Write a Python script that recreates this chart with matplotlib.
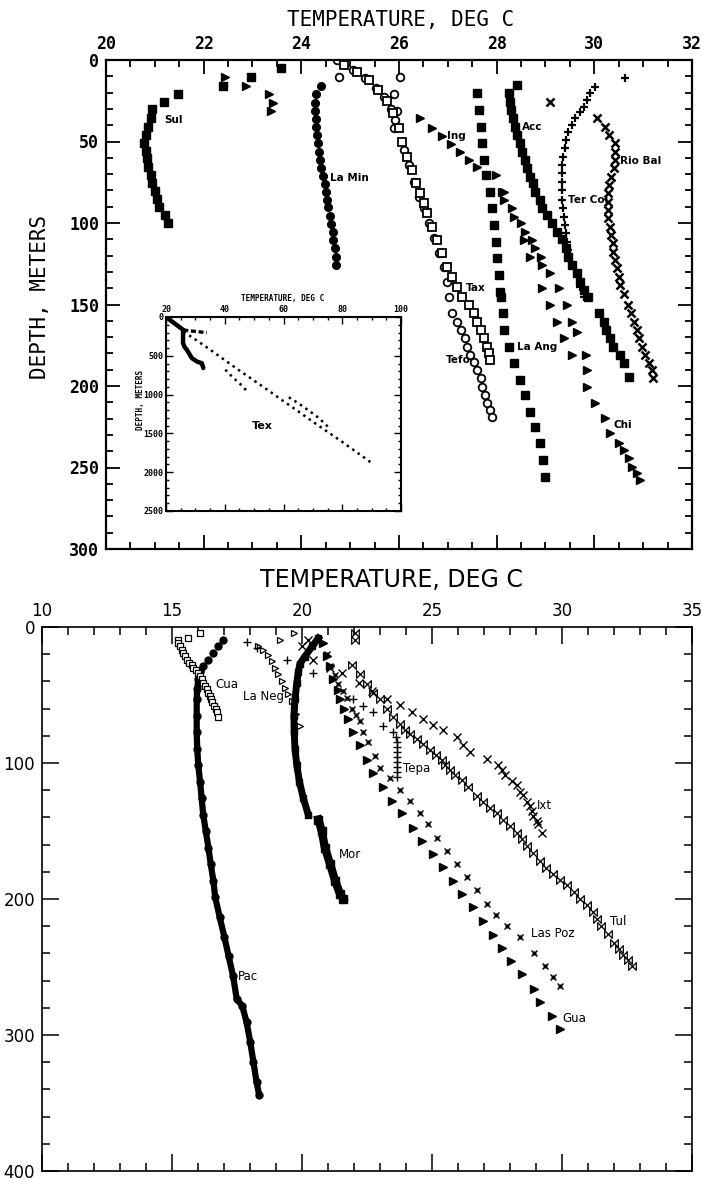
import matplotlib
matplotlib.use("Agg")
from matplotlib import pyplot as plt
from matplotlib.path import Path
from matplotlib.ticker import MultipleLocator

W, H = 702, 1180

# ---------------- upper chart: temperature (deg C) vs depth (m) ----------------
sul_t = [21.48, 21.18, 20.95, 20.92, 20.85, 20.82, 20.78, 20.82, 20.84, 20.87, 20.92,
         20.95, 21.00, 21.04, 21.09, 21.21, 21.26]
sul_d = [20.9, 25.6, 30.3, 35.8, 40.9, 46.0, 50.7, 55.6, 60.3, 65.4, 70.6,
         75.3, 80.2, 85.3, 90.4, 95.1, 100.2]

top_sq_t = [22.39, 22.97, 23.58]
top_sq_d = [16.0, 10.6, 5.1]
top_tri_t = [22.44, 22.86, 23.34, 23.43, 23.37]
top_tri_d = [10.6, 16.0, 20.9, 26.2, 31.1]

lamin_t = [24.40, 24.31, 24.29, 24.29, 24.31, 24.31, 24.33, 24.35, 24.36, 24.38, 24.41, 24.45,
           24.48, 24.50, 24.52, 24.55, 24.58, 24.60, 24.64, 24.65, 24.68, 24.70, 24.72]
lamin_d = [16.0, 20.9, 26.2, 31.1, 36.2, 41.3, 46.0, 51.1, 56.3, 61.3, 66.4, 71.2,
           76.1, 80.8, 85.9, 90.4, 95.7, 100.6, 105.7, 110.4, 115.5, 120.7, 125.8]

tefo_t = [24.74, 24.77, 26.03, 25.90, 25.96, 25.05, 25.30, 25.52, 25.70, 25.84, 25.92,
          25.90, 26.10, 26.20, 26.30, 26.41, 26.51, 26.61, 26.71, 26.82, 26.92, 26.99,
          27.02, 27.09, 27.19, 27.26, 27.36, 27.40, 27.46, 27.53, 27.60, 27.67, 27.70,
          27.77, 27.80, 27.87, 27.91]
tefo_d = [0.0, 10.6, 10.6, 21.0, 31.0, 6.0, 11.0, 17.0, 23.0, 30.0, 37.0,
          41.9, 55.2, 64.4, 74.7, 83.9, 91.0, 100.2, 109.4, 118.6, 126.8, 136.0,
          145.2, 155.4, 160.5, 165.6, 170.7, 175.9, 181.0, 185.1, 190.2, 195.3, 200.4,
          205.5, 210.6, 214.7, 218.8]

tax_t = [24.87, 25.13, 25.38, 25.58, 25.75, 25.87, 26.00, 26.07, 26.17, 26.27, 26.34,
         26.44, 26.51, 26.58, 26.68, 26.78, 26.88, 26.99, 27.09, 27.19, 27.29, 27.43,
         27.53, 27.60, 27.67, 27.74, 27.80, 27.84, 27.87]
tax_d = [3.1, 7.4, 12.3, 18.4, 25.2, 32.5, 41.9, 50.1, 59.3, 67.5, 75.6,
         81.8, 87.9, 94.0, 102.3, 110.4, 118.6, 126.8, 133.0, 139.1, 145.2, 150.3,
         155.4, 160.5, 165.6, 170.7, 175.9, 179.9, 184.0]

ing_t = [26.44, 26.68, 26.89, 27.06, 27.25, 27.43, 27.60, 27.98, 28.10, 28.32, 28.49,
         28.56, 28.69, 28.93, 29.10, 29.24, 29.37, 29.54]
ing_d = [35.8, 41.9, 46.6, 51.5, 56.3, 61.3, 65.4, 70.6, 80.8, 91.0, 100.2,
         110.4, 120.7, 140.1, 150.3, 160.5, 170.7, 181.0]

chi_t = [28.15, 28.15, 28.35, 28.59, 28.72, 28.79, 28.90, 28.93, 29.10, 29.27, 29.44,
         29.54, 29.64, 29.82, 29.85, 29.85, 30.02, 30.22, 30.33, 30.50, 30.60, 30.70,
         30.77, 30.87, 30.94]
chi_d = [80.8, 85.9, 96.1, 105.3, 110.4, 115.5, 120.7, 125.8, 130.9, 140.1, 150.3,
         160.5, 166.7, 181.0, 190.2, 200.4, 210.6, 219.8, 229.0, 235.2, 239.3, 244.4,
         249.5, 253.6, 257.7]

laang_t = [27.60, 27.63, 27.67, 27.70, 27.74, 27.79, 27.86, 27.91, 27.94, 27.98, 28.01,
           28.04, 28.06, 28.08, 28.13, 28.16, 28.25, 28.35, 28.47, 28.58, 28.68, 28.78,
           28.88, 28.95, 29.00]
laang_d = [20.4, 30.7, 40.9, 51.1, 61.3, 70.6, 80.8, 91.0, 101.2, 111.5, 121.7,
           131.9, 142.1, 145.2, 155.4, 165.6, 175.9, 186.1, 196.3, 205.5, 215.7, 224.9,
           235.2, 245.4, 255.6]

acc_t = [28.42, 28.25, 28.28, 28.30, 28.34, 28.37, 28.42, 28.47, 28.52, 28.58, 28.62,
         28.69, 28.74, 28.79, 28.88, 28.93, 29.03, 29.13, 29.24, 29.34, 29.41, 29.47,
         29.54, 29.64, 29.71, 29.78, 29.88, 30.09, 30.19, 30.24, 30.33, 30.39, 30.52,
         30.60, 30.70]
acc_d = [15.3, 20.4, 25.6, 30.7, 35.8, 40.9, 46.0, 51.1, 56.3, 61.3, 66.4,
         71.6, 75.6, 80.8, 85.9, 91.0, 95.1, 100.2, 105.3, 110.0, 115.5, 120.7,
         125.8, 130.9, 136.0, 141.1, 145.2, 155.4, 160.5, 165.6, 170.7, 175.9, 181.0,
         186.1, 194.3]

tercol_t = [30.63, 30.02, 29.92, 29.85, 29.78, 29.70, 29.61, 29.54, 29.47, 29.43, 29.39,
            29.36, 29.34, 29.34, 29.34, 29.34, 29.34, 29.36, 29.37, 29.39, 29.41, 29.44,
            29.47, 29.71, 29.78]
tercol_d = [11.2, 16.4, 20.4, 24.5, 28.6, 31.7, 35.8, 39.9, 44.0, 49.1, 54.2,
            59.3, 64.4, 69.5, 74.6, 79.8, 85.9, 91.0, 96.1, 101.2, 106.3, 111.5,
            116.5, 139.0, 145.2]

riobal_t = [29.10, 30.05, 30.22, 30.31, 30.43, 30.43, 30.42, 30.40, 30.34, 30.31, 30.29,
            30.28, 30.28, 30.29, 30.33, 30.35, 30.38, 30.39, 30.43, 30.46, 30.50, 30.53,
            30.60, 30.68, 30.75, 30.82, 30.87, 30.91, 30.97, 31.04, 31.11, 31.18, 31.21]
riobal_d = [25.6, 35.8, 40.9, 46.0, 51.1, 56.3, 61.3, 66.4, 71.6, 76.7, 81.8,
            86.9, 92.0, 97.1, 102.3, 107.4, 112.5, 117.6, 122.7, 127.8, 132.9, 138.0,
            143.5, 150.3, 155.4, 160.5, 165.6, 170.7, 175.9, 181.0, 186.1, 190.2, 195.3]

# inset: Tex well, to 2000 m
tex_a_t = [20.0, 22.0, 24.0, 25.9, 25.8, 25.8, 26.2, 27.1, 28.8, 30.5, 32.2, 32.7]
tex_a_d = [0, 57, 113, 167, 220, 333, 380, 423, 530, 573, 596, 658]
tex_b_t = [25.9, 28.0, 30.0, 32.0, 33.9]
tex_b_d = [167, 178, 186, 194, 201]
tex_c_t = [26, 30, 35, 40, 45, 50, 55, 60, 65, 70, 75, 80, 85, 89.7]
tex_c_d = [190, 290, 420, 555, 690, 820, 950, 1085, 1215, 1350, 1480, 1610, 1745, 1872]
tex_d_t = [61.8, 65, 68, 71, 74, 76]
tex_d_d = [1034, 1110, 1190, 1270, 1370, 1450]
tex_e_t = [40.2, 42, 44, 46, 47.6]
tex_e_d = [679, 750, 820, 890, 957]

# ---------------- lower chart ----------------
pac_t = [16.97, 16.78, 16.59, 16.40, 16.20, 16.08, 16.01, 15.97, 15.95, 15.95, 15.95,
         15.97, 16.01, 16.08, 16.14, 16.20, 16.30, 16.40, 16.49, 16.59, 16.66, 16.83,
         17.01, 17.18, 17.35, 17.49, 17.70, 17.87, 18.01, 18.13, 18.25, 18.35]
pac_d = [9.5, 14.3, 19.1, 24.0, 28.8, 32.5, 38.5, 45.8, 53.1, 65.2, 77.3,
         89.5, 101.6, 113.7, 125.8, 138.0, 150.0, 162.2, 174.3, 186.4, 198.5, 213.0,
         227.6, 242.2, 256.7, 273.7, 278.5, 290.7, 305.2, 319.8, 334.3, 344.0]

cua_t = [15.24, 15.63, 16.08, 15.24, 15.30, 15.37, 15.44, 15.50, 15.58, 15.67, 15.75,
         15.82, 15.92, 16.01, 16.08, 16.14, 16.20, 16.27, 16.33, 16.40, 16.45, 16.49,
         16.55, 16.62, 16.68, 16.72, 16.78]
cua_d = [9.5, 8.2, 4.6, 11.9, 14.3, 16.7, 19.1, 21.6, 24.0, 26.4, 28.2,
         30.0, 31.8, 33.7, 36.1, 38.5, 41.0, 43.4, 45.8, 48.2, 50.7, 53.1,
         55.5, 58.0, 60.4, 62.8, 66.4]

laneg_t = [19.69, 19.15, 18.32, 18.51, 18.70, 18.83, 18.96, 19.09, 19.22, 19.35, 19.47,
           19.60, 19.69, 19.76, 19.92]
laneg_d = [4.6, 9.5, 14.3, 16.7, 20.4, 25.2, 30.0, 34.9, 39.8, 44.6, 49.5,
           54.3, 59.1, 64.0, 72.5]

tepa_t = [17.87, 18.26, 19.41, 20.44, 21.97, 22.36, 22.74, 23.13, 23.51, 23.60, 23.64,
          23.64, 23.64, 23.66, 23.66, 23.66, 23.66, 23.66]
tepa_d = [10.7, 15.5, 24.0, 33.7, 53.1, 58.0, 62.8, 72.5, 77.3, 80.9, 84.6,
          88.2, 91.9, 95.5, 99.1, 102.7, 106.4, 110.0]

mor_up_t = [20.63, 20.40, 20.10, 19.92, 19.86, 19.80, 19.73, 19.69, 19.70, 19.73, 19.80,
            19.90, 20.05, 20.24]
mor_up_d = [8.2, 14.0, 22.0, 27.0, 33.0, 41.0, 53.1, 65.2, 77.3, 89.5, 101.6,
            113.7, 125.8, 138.0]
mor_lo_t = [20.63, 20.76, 20.88, 21.08, 21.27, 21.46, 21.58]
mor_lo_d = [141.6, 150.0, 162.2, 174.3, 186.4, 196.1, 199.8]

gua_t = [20.82, 20.95, 21.08, 21.20, 21.40, 21.47, 21.60, 21.78, 21.97, 22.23, 22.49,
         22.74, 23.13, 23.45, 23.83, 24.28, 24.60, 25.05, 25.43, 25.82, 26.14, 26.59,
         26.95, 27.36, 27.70, 28.05, 28.48, 28.91, 29.17, 29.60, 29.94]
gua_d = [11.9, 21.6, 28.8, 38.5, 46.0, 53.0, 60.0, 67.6, 77.3, 87.0, 98.0,
         107.6, 117.3, 128.2, 136.7, 147.6, 157.3, 167.0, 176.7, 186.4, 196.1, 205.8,
         216.0, 226.4, 236.1, 245.8, 255.5, 266.4, 276.1, 285.8, 295.5]

laspoz_t = [20.95, 21.08, 21.25, 21.40, 21.56, 21.72, 21.91, 22.07, 22.23, 22.36, 22.55,
            22.80, 23.00, 23.38, 23.77, 24.15, 24.54, 24.86, 25.18, 25.57, 25.95, 26.33,
            26.72, 27.10, 27.45, 27.90, 28.39, 28.91, 29.34, 29.65, 29.94]
laspoz_d = [20.0, 28.8, 35.5, 42.2, 47.0, 51.9, 60.4, 64.6, 68.9, 77.3, 84.6,
            95.0, 104.0, 111.3, 119.8, 128.2, 136.7, 145.2, 154.9, 164.6, 174.3, 184.0,
            193.7, 203.4, 212.0, 220.0, 228.0, 240.0, 249.5, 257.0, 264.0]

tul_t = [22.05, 22.05, 21.91, 22.23, 22.49, 22.74, 23.00, 23.26, 23.51, 23.75, 23.96,
         24.15, 24.41, 24.65, 24.92, 25.15, 25.37, 25.50, 25.69, 25.90, 26.14, 26.40,
         26.72, 26.98, 27.23, 27.50, 27.74, 28.00, 28.26, 28.45, 28.64, 28.90, 29.15,
         29.40, 29.67, 29.92, 30.18, 30.45, 30.69, 30.95, 31.20, 31.35, 31.50, 31.75,
         32.00, 32.18, 32.36, 32.53, 32.70]
tul_d = [4.5, 9.5, 27.6, 34.9, 42.2, 48.2, 53.1, 60.4, 66.4, 71.0, 76.1,
         79.0, 82.2, 86.0, 90.7, 94.0, 98.0, 101.5, 105.2, 108.5, 112.5, 118.0,
         124.6, 128.5, 133.1, 137.0, 141.6, 146.0, 151.3, 156.0, 160.9, 166.0, 171.9,
         177.0, 181.6, 186.0, 190.0, 195.0, 199.8, 204.5, 209.5, 214.5, 220.0, 226.0,
         232.5, 237.0, 241.0, 245.0, 249.5]

ixt_t = [19.99, 20.24, 20.44, 21.08, 21.53, 22.20, 22.68, 23.26, 23.77, 24.22, 24.67,
         25.05, 25.43, 25.95, 26.21, 26.46, 27.10, 27.55, 27.68, 27.81, 28.07, 28.26,
         28.38, 28.51, 28.64, 28.77, 28.83, 28.90, 29.03, 29.09, 29.22]
ixt_d = [14.3, 9.5, 24.0, 30.0, 33.7, 41.0, 47.0, 53.0, 57.5, 62.8, 67.3,
         72.0, 76.1, 81.0, 87.0, 91.9, 96.7, 101.6, 105.0, 108.8, 113.4, 116.1,
         121.0, 123.4, 128.6, 131.9, 135.5, 139.1, 142.7, 145.2, 151.3]


def px_axes(left, top, right, bottom):
    return fig.add_axes([left / W, 1 - bottom / H, (right - left) / W, (bottom - top) / H])


bowtie = Path([(-1, -1), (1, 1), (1, -1), (-1, 1), (-1, -1)],
              [Path.MOVETO, Path.LINETO, Path.LINETO, Path.LINETO, Path.CLOSEPOLY])

fig = plt.figure(figsize=(W / 100, H / 100), dpi=100)
plotter = "DejaVu Sans Mono"

# ---------------- upper chart ----------------
ax = px_axes(106, 60, 692, 549)
ax.set_xlim(20, 32)
ax.set_ylim(300, 0)
ax.xaxis.set_major_locator(MultipleLocator(2))
ax.xaxis.set_minor_locator(MultipleLocator(0.5))
ax.yaxis.set_major_locator(MultipleLocator(50))
ax.yaxis.set_minor_locator(MultipleLocator(10))
ax.tick_params(which="both", direction="in", top=True, right=True, bottom=True, left=True,
               labeltop=True, labelbottom=False, width=1.3, pad=5)
ax.tick_params(which="major", length=10)
ax.tick_params(which="minor", length=5)
for lab in ax.get_xticklabels() + ax.get_yticklabels():
    lab.set_fontfamily(plotter)
    lab.set_fontweight("bold")
    lab.set_fontsize(12)
for sp in ax.spines.values():
    sp.set_linewidth(1.6)

ms = 5.5
ax.plot(sul_t, sul_d, "s", color="k", ms=ms)
ax.plot(top_sq_t, top_sq_d, "s", color="k", ms=ms)
ax.plot(top_tri_t, top_tri_d, ">", color="k", ms=ms)
ax.plot(lamin_t, lamin_d, "o", color="k", ms=ms)
ax.plot(tefo_t, tefo_d, "o", mfc="white", mec="k", mew=1.3, ms=ms)
ax.plot(tax_t, tax_d, "s", mfc="white", mec="k", mew=1.3, ms=ms)
ax.plot(ing_t, ing_d, ">", color="k", ms=ms)
ax.plot(chi_t, chi_d, ">", color="k", ms=ms)
ax.plot(laang_t, laang_d, "s", color="k", ms=ms)
ax.plot(acc_t, acc_d, "s", color="k", ms=ms)
ax.plot(tercol_t, tercol_d, "+", color="k", ms=6, mew=1.6)
ax.plot(riobal_t, riobal_d, "x", color="k", ms=5.5, mew=1.8)

lab_kw = dict(fontsize=7.5, fontweight="bold", va="center", ha="left")
ax.text(21.19, 36.8, "Sul", **lab_kw)
ax.text(24.58, 72.4, "La Min", **lab_kw)
ax.text(26.99, 46.6, "Ing", **lab_kw)
ax.text(28.52, 40.9, "Acc", **lab_kw)
ax.text(30.53, 62.0, "Rio Bal", **lab_kw)
ax.text(29.47, 85.9, "Ter Col", **lab_kw)
ax.text(27.36, 139.9, "Tax", **lab_kw)
ax.text(26.95, 184.0, "Tefo", **lab_kw)
ax.text(28.42, 175.9, "La Ang", **lab_kw)
ax.text(30.39, 224.0, "Chi", **lab_kw)

fig.text(401 / W, 1 - 20 / H, "TEMPERATURE, DEG C", family=plotter, fontsize=15,
         ha="center", va="center")
fig.text(40 / W, 1 - 297 / H, "DEPTH, METERS", family=plotter, fontsize=15,
         rotation=90, ha="center", va="center")

# inset
ins = px_axes(166, 317, 401, 511)
ins.set_xlim(20, 100)
ins.set_ylim(2500, 0)
ins.xaxis.set_major_locator(MultipleLocator(20))
ins.xaxis.set_minor_locator(MultipleLocator(5))
ins.yaxis.set_major_locator(MultipleLocator(500))
ins.yaxis.set_minor_locator(MultipleLocator(100))
ins.tick_params(which="both", direction="in", top=True, right=True, bottom=True, left=True,
                labeltop=True, labelbottom=False, width=1.0, pad=2)
ins.tick_params(which="major", length=5)
ins.tick_params(which="minor", length=2.5)
for lab in ins.get_xticklabels() + ins.get_yticklabels():
    lab.set_fontfamily(plotter)
    lab.set_fontweight("bold")
    lab.set_fontsize(6)
for sp in ins.spines.values():
    sp.set_linewidth(1.5)
ins.plot(tex_a_t, tex_a_d, "-", color="k", lw=3.2, solid_capstyle="round")
ins.plot(tex_b_t, tex_b_d, "--", color="k", lw=2.4, dashes=(1.5, 0.8))
ins.plot(tex_c_t, tex_c_d, ":", color="k", lw=1.8)
ins.plot(tex_d_t, tex_d_d, ":", color="k", lw=1.8)
ins.plot(tex_e_t, tex_e_d, ":", color="k", lw=1.8)
ins.text(52.8, 1410, "Tex", fontsize=8, fontweight="bold", ha="center", va="center")
fig.text(283 / W, 1 - 298 / H, "TEMPERATURE, DEG C", family=plotter, fontsize=5.5,
         fontweight="bold", ha="center", va="center")
fig.text(141 / W, 1 - 400 / H, "DEPTH, METERS", family=plotter, fontsize=5.5,
         fontweight="bold", rotation=90, ha="center", va="center")

# ---------------- lower chart ----------------
bx = px_axes(42, 627, 692, 1171)
bx.set_xlim(10, 35)
bx.set_ylim(400, 0)
bx.xaxis.set_major_locator(MultipleLocator(5))
bx.xaxis.set_minor_locator(MultipleLocator(1))
bx.yaxis.set_major_locator(MultipleLocator(100))
bx.yaxis.set_minor_locator(MultipleLocator(20))
bx.tick_params(which="both", direction="in", top=True, right=True, bottom=True, left=True,
               labeltop=True, labelbottom=False, width=1.1, pad=5, labelsize=12)
bx.tick_params(which="major", length=12)
bx.tick_params(which="minor", length=6)
for sp in bx.spines.values():
    sp.set_linewidth(1.2)

bx.plot(pac_t[:6], pac_d[:6], "o", color="k", ms=5)
bx.plot(pac_t[5:], pac_d[5:], "-o", color="k", ms=5, lw=4.5)
bx.plot(cua_t, cua_d, "s", mfc="white", mec="k", mew=0.9, ms=5)
bx.plot(laneg_t, laneg_d, ">", mfc="white", mec="k", mew=0.9, ms=5)
bx.plot(tepa_t, tepa_d, "+", color="k", ms=6, mew=1.0)
bx.plot(mor_up_t, mor_up_d, "-s", color="k", ms=5, lw=5)
bx.plot(mor_lo_t, mor_lo_d, "-s", color="k", ms=5.5, lw=6)
bx.plot(gua_t, gua_d, ">", color="k", ms=5.5)
bx.plot(laspoz_t, laspoz_d, "x", color="k", ms=5, mew=1.0)
bx.plot(laspoz_t, laspoz_d, ".", color="k", ms=4)
bx.plot(tul_t, tul_d, marker=bowtie, ls="none", mfc="none", mec="k", mew=0.9, ms=5.5)
bx.plot(ixt_t, ixt_d, "x", color="k", ms=5.5, mew=1.0)

lab2 = dict(fontsize=8.5, va="center", ha="left")
bx.text(16.65, 42.2, "Cua", **lab2)
bx.text(17.73, 50.9, "La Neg", **lab2)
bx.text(23.88, 104.0, "Tepa", **lab2)
bx.text(21.40, 167.0, "Mor", **lab2)
bx.text(17.54, 256.7, "Pac", **lab2)
bx.text(28.81, 225.5, "Las Poz", **lab2)
bx.text(30.00, 288.0, "Gua", **lab2)
bx.text(31.85, 216.7, "Tul", **lab2)
bx.text(29.04, 131.6, "Ixt", **lab2)

fig.text(391 / W, 1 - 580 / H, "TEMPERATURE, DEG C", fontsize=17,
         ha="center", va="center")

fig.savefig("out.png", dpi=100, facecolor="white")
